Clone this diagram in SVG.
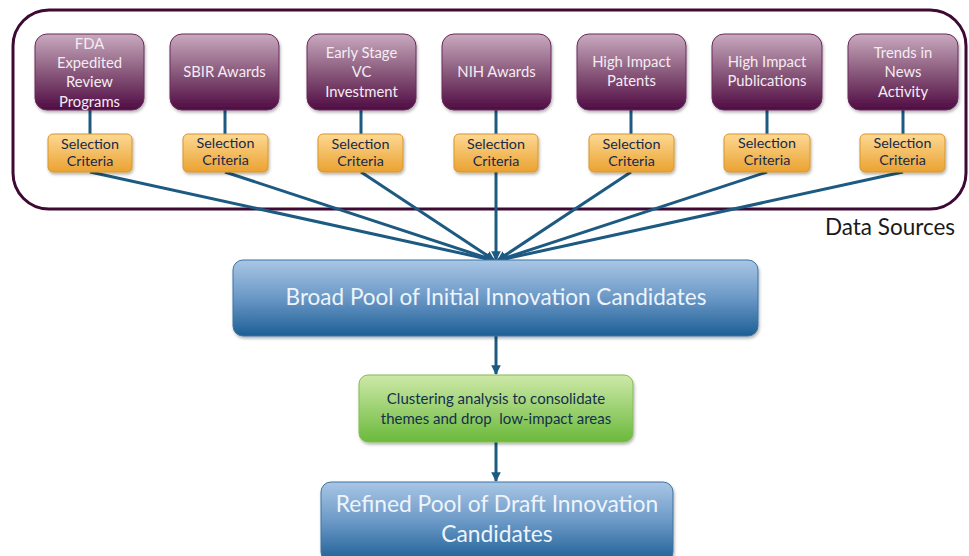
<svg xmlns="http://www.w3.org/2000/svg" width="969" height="556" viewBox="0 0 969 556">
<defs>
<linearGradient id="gPurple" x1="0" y1="0" x2="0" y2="1">
<stop offset="0" stop-color="#c9aabf"/><stop offset="0.5" stop-color="#8a5a7c"/><stop offset="1" stop-color="#4f0b43"/>
</linearGradient>
<linearGradient id="gOrange" x1="0" y1="0" x2="0" y2="1">
<stop offset="0" stop-color="#fdd892"/><stop offset="1" stop-color="#eaa232"/>
</linearGradient>
<linearGradient id="gBlue" x1="0" y1="0" x2="0" y2="1">
<stop offset="0" stop-color="#a9c6e5"/><stop offset="0.5" stop-color="#6a98c6"/><stop offset="1" stop-color="#1d5f95"/>
</linearGradient>
<linearGradient id="gGreen" x1="0" y1="0" x2="0" y2="1">
<stop offset="0" stop-color="#cde9a8"/><stop offset="1" stop-color="#6bb93c"/>
</linearGradient>
<filter id="sh" x="-10%" y="-10%" width="130%" height="140%">
<feDropShadow dx="1" dy="2" stdDeviation="1.5" flood-color="#000" flood-opacity="0.3"/>
</filter>
<marker id="ah" viewBox="0 0 10 10" refX="9" refY="5" markerWidth="3.2" markerHeight="3.2" orient="auto" markerUnits="strokeWidth">
<path d="M0,0 L10,5 L0,10 z" fill="#1c5a82"/>
</marker>
<style>
.src{fill:url(#gPurple);stroke:#6a2a5c;stroke-width:1}
.sel{fill:url(#gOrange);stroke:#d8952c;stroke-width:1}
.blue{fill:url(#gBlue);stroke:#3c73a3;stroke-width:1}
.green{fill:url(#gGreen);stroke:#82bc55;stroke-width:1}
.tw{font-family:Lato,"Liberation Sans",sans-serif;font-size:14.8px;fill:#f4ecf2;text-anchor:middle}
.ts{font-family:Lato,"Liberation Sans",sans-serif;font-size:14.3px;fill:#17294a;text-anchor:middle}
.tb{font-family:Lato,"Liberation Sans",sans-serif;fill:#eef4fb;text-anchor:middle}
.tg{font-family:Lato,"Liberation Sans",sans-serif;font-size:15px;fill:#14304a;text-anchor:middle}
.c{stroke:#1c5a82;stroke-width:3;fill:none}
.ca{stroke:#1c5a82;stroke-width:3;fill:none;marker-end:url(#ah)}
</style>
</defs>
<rect width="969" height="556" fill="#ffffff"/>
<g id="datasources">
<rect x="13" y="10" width="953" height="199" rx="36" ry="36" fill="#ffffff" stroke="#3e0a33" stroke-width="3"/>
<text x="890" y="235" font-family="Lato,'Liberation Sans',sans-serif" font-size="22.5" fill="#1a1a1a" text-anchor="middle">Data Sources</text>
</g>
<g id="connectors">
<line class="c" x1="90" y1="110" x2="90" y2="134"/>
<line class="c" x1="225" y1="110" x2="225" y2="134"/>
<line class="c" x1="361" y1="110" x2="361" y2="134"/>
<line class="c" x1="496" y1="110" x2="496" y2="134"/>
<line class="c" x1="631" y1="110" x2="631" y2="134"/>
<line class="c" x1="767" y1="110" x2="767" y2="134"/>
<line class="c" x1="903" y1="110" x2="903" y2="134"/>
<line class="ca" x1="90" y1="172" x2="492" y2="260"/>
<line class="ca" x1="225" y1="172" x2="493" y2="260"/>
<line class="ca" x1="361" y1="172" x2="494" y2="260"/>
<line class="ca" x1="496" y1="172" x2="496" y2="260"/>
<line class="ca" x1="631" y1="172" x2="498" y2="260"/>
<line class="ca" x1="767" y1="172" x2="499" y2="260"/>
<line class="ca" x1="903" y1="172" x2="500" y2="260"/>
<line class="ca" x1="496" y1="336" x2="496" y2="374"/>
<line class="ca" x1="496" y1="442" x2="496" y2="481"/>
</g>
<g id="src-fda"><rect class="src" x="35" y="34" width="109" height="76" rx="12" filter="url(#sh)"/>
<text class="tw"><tspan x="89.5" y="49">FDA</tspan><tspan x="89.5" y="68">Expedited</tspan><tspan x="89.5" y="87">Review</tspan><tspan x="89.5" y="107">Programs</tspan></text></g>
<g id="src-sbir"><rect class="src" x="170" y="34" width="109" height="76" rx="12" filter="url(#sh)"/>
<text class="tw"><tspan x="224.5" y="77">SBIR Awards</tspan></text></g>
<g id="src-vc"><rect class="src" x="307" y="34" width="109" height="76" rx="12" filter="url(#sh)"/>
<text class="tw"><tspan x="361.5" y="58">Early Stage</tspan><tspan x="361.5" y="77">VC</tspan><tspan x="361.5" y="97">Investment</tspan></text></g>
<g id="src-nih"><rect class="src" x="442" y="34" width="109" height="76" rx="12" filter="url(#sh)"/>
<text class="tw"><tspan x="496.5" y="77">NIH Awards</tspan></text></g>
<g id="src-patents"><rect class="src" x="577" y="34" width="109" height="76" rx="12" filter="url(#sh)"/>
<text class="tw"><tspan x="631.5" y="67">High Impact</tspan><tspan x="631.5" y="86">Patents</tspan></text></g>
<g id="src-pubs"><rect class="src" x="712" y="34" width="110" height="76" rx="12" filter="url(#sh)"/>
<text class="tw"><tspan x="767" y="67">High Impact</tspan><tspan x="767" y="86">Publications</tspan></text></g>
<g id="src-news"><rect class="src" x="848" y="34" width="110" height="76" rx="12" filter="url(#sh)"/>
<text class="tw"><tspan x="903" y="58">Trends in</tspan><tspan x="903" y="77">News</tspan><tspan x="903" y="97">Activity</tspan></text></g>
<g id="sel-1"><rect class="sel" x="48" y="134" width="84" height="38" rx="5" filter="url(#sh)"/>
<text class="ts"><tspan x="90" y="149">Selection</tspan><tspan x="90" y="166">Criteria</tspan></text></g>
<g id="sel-2"><rect class="sel" x="183" y="134" width="85" height="38" rx="5" filter="url(#sh)"/>
<text class="ts"><tspan x="225.5" y="148">Selection</tspan><tspan x="225.5" y="165">Criteria</tspan></text></g>
<g id="sel-3"><rect class="sel" x="318" y="134" width="85" height="38" rx="5" filter="url(#sh)"/>
<text class="ts"><tspan x="360.5" y="149">Selection</tspan><tspan x="360.5" y="166">Criteria</tspan></text></g>
<g id="sel-4"><rect class="sel" x="454" y="134" width="84" height="38" rx="5" filter="url(#sh)"/>
<text class="ts"><tspan x="496" y="149">Selection</tspan><tspan x="496" y="166">Criteria</tspan></text></g>
<g id="sel-5"><rect class="sel" x="589" y="134" width="85" height="38" rx="5" filter="url(#sh)"/>
<text class="ts"><tspan x="631.5" y="149">Selection</tspan><tspan x="631.5" y="166">Criteria</tspan></text></g>
<g id="sel-6"><rect class="sel" x="724" y="134" width="86" height="38" rx="5" filter="url(#sh)"/>
<text class="ts"><tspan x="767" y="148">Selection</tspan><tspan x="767" y="165">Criteria</tspan></text></g>
<g id="sel-7"><rect class="sel" x="860" y="134" width="85" height="38" rx="5" filter="url(#sh)"/>
<text class="ts"><tspan x="902.5" y="148">Selection</tspan><tspan x="902.5" y="165">Criteria</tspan></text></g>
<g id="broad"><rect class="blue" x="233" y="260" width="525" height="76" rx="10" filter="url(#sh)"/>
<text class="tb" x="496" y="305" font-size="22.5">Broad Pool of Initial Innovation Candidates</text></g>
<g id="cluster"><rect class="green" x="359" y="375" width="274" height="67" rx="9" filter="url(#sh)"/>
<text class="tg"><tspan x="496" y="404">Clustering analysis to consolidate</tspan><tspan x="496" y="424">themes and drop&#160; low-impact areas</tspan></text></g>
<g id="refined"><rect class="blue" x="321" y="482" width="352" height="80" rx="10" filter="url(#sh)"/>
<text class="tb" font-size="22.8"><tspan x="497" y="512">Refined Pool of Draft Innovation</tspan><tspan x="497" y="542">Candidates</tspan></text></g>
</svg>
